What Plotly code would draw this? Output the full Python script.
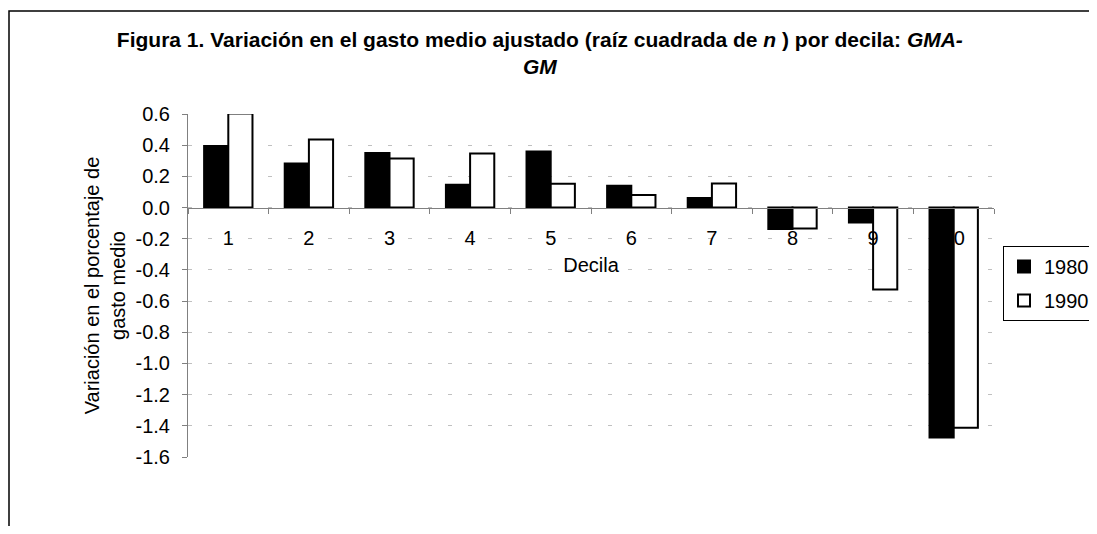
import plotly.graph_objects as go

deciles = ["1", "2", "3", "4", "5", "6", "7", "8", "9", "10"]
values_1980 = [0.395, 0.283, 0.35, 0.146, 0.36, 0.14, 0.062, -0.137, -0.096, -1.475]
values_1990 = [0.603, 0.437, 0.315, 0.347, 0.152, 0.08, 0.154, -0.135, -0.525, -1.412]
series_names = ["1980", "1990"]
y_tick_values = [0.6, 0.4, 0.2, 0.0, -0.2, -0.4, -0.6, -0.8, -1.0, -1.2, -1.4, -1.6]
y_tick_labels = ["0.6", "0.4", "0.2", "0.0", "-0.2", "-0.4", "-0.6", "-0.8", "-1.0", "-1.2", "-1.4", "-1.6"]
y_min, y_max = -1.6, 0.6

FONT = "Arial, 'Liberation Sans', sans-serif"
FS = 20

fig = go.Figure()
fig.add_trace(go.Bar(
    x=deciles, y=values_1980, name=series_names[0], legendgroup="a",
    marker=dict(color="black", line=dict(color="black", width=2)),
))
fig.add_trace(go.Bar(
    x=deciles, y=values_1990, name=series_names[1], legendgroup="b",
    marker=dict(color="white", line=dict(color="black", width=2)),
))

# the page body has an 8px default margin; sizes chosen so no scrollbars appear
OFF = 8
W, H = 1097 - 2 * OFF, 534 - 2 * OFF
L, T = 188 - OFF, 114 - OFF
R = W - (994 - OFF)
B = H - (457 - OFF)
pw, ph = W - L - R, H - T - B

fig.update_layout(
    width=W, height=H,
    margin=dict(l=L, r=R, t=T, b=B, autoexpand=False),
    paper_bgcolor="white", plot_bgcolor="white",
    font=dict(family=FONT, size=FS, color="black"),
    barmode="group", bargap=0.4, bargroupgap=0.0,
    title=dict(
        text="<b>Figura 1. Variación en el gasto medio ajustado (raíz cuadrada de <i>n</i> ) por decila: <i>GMA-</i><br><i>GM</i></b>",
        x=0.492, xanchor="center", xref="container",
        y=0.925, yanchor="top", yref="container",
        font=dict(family=FONT, size=21, color="black"),
    ),
    xaxis=dict(
        type="category", anchor="free", position=(0 - y_min) / (y_max - y_min),
        showline=True, linecolor="#808080", linewidth=1,
        ticks="outside", tickson="boundaries", ticklen=5, tickcolor="#808080",
        ticklabelstandoff=12, showgrid=False,
        tickfont=dict(size=FS),
        title=dict(text="Decila", standoff=10, font=dict(size=FS)),
    ),
    yaxis=dict(
        range=[y_min, y_max], tickvals=y_tick_values, ticktext=y_tick_labels,
        showline=True, linecolor="#808080", linewidth=1,
        ticks="outside", ticklen=5, tickcolor="#808080",
        ticklabelstandoff=8, tickfont=dict(size=FS),
        showgrid=True, gridcolor="#c0c0c0", gridwidth=1, griddash="4px,16px",
        zeroline=False,
        title=dict(text="Variación en el porcentaje de<br>gasto medio", standoff=4, font=dict(size=FS)),
    ),
    legend=dict(
        x=(1003 - OFF - L) / pw, y=1 - (246 - OFF - T) / ph, xanchor="left", yanchor="top",
        bordercolor="black", borderwidth=1, bgcolor="white",
        font=dict(size=FS), tracegroupgap=5, traceorder="grouped",
    ),
    shapes=[dict(
        type="rect", xref="paper", yref="paper",
        x0=(9 - OFF - L) / pw, x1=(1120 - L) / pw,
        y0=-(580 - (H - B)) / ph, y1=1 + (T - (11 - OFF)) / ph,
        line=dict(color="black", width=1.5), fillcolor="rgba(0,0,0,0)", layer="below",
    )],
)

fig.write_html("out.html")
